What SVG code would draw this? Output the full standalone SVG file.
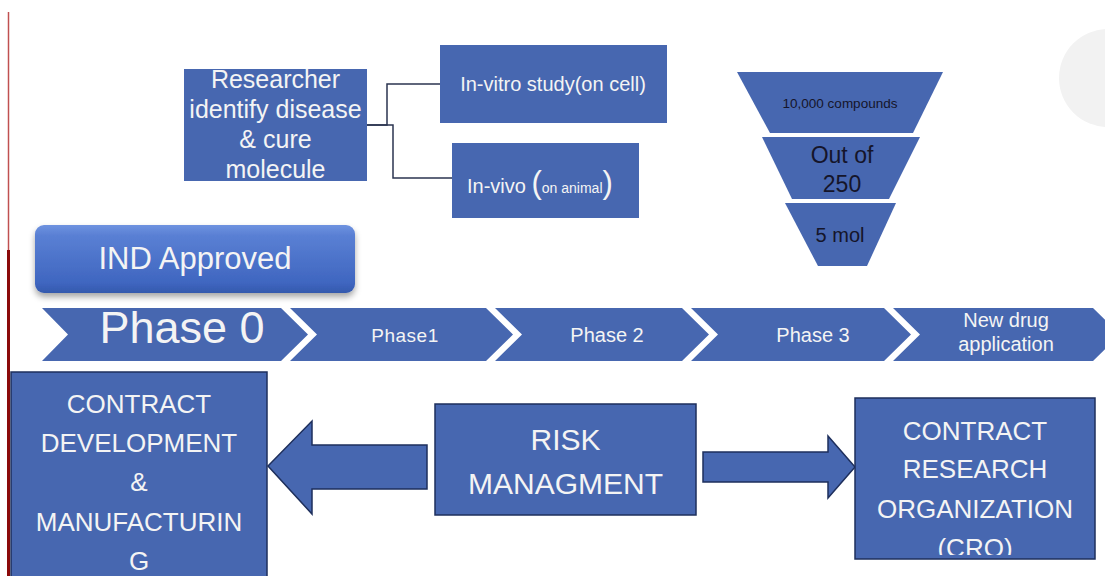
<svg xmlns="http://www.w3.org/2000/svg" width="1105" height="576" viewBox="0 0 1105 576">
<defs>
<style>
.box{fill:#4767b0}
.bbox{fill:#4767b0;stroke:#1e2f5c;stroke-width:1.5}
.chev{fill:#4767b0}
.wt{fill:#f4f4f4;font-family:"Liberation Sans",Arial,sans-serif;text-anchor:middle}
.dt{fill:#15152a;font-family:"Liberation Sans",Arial,sans-serif;text-anchor:middle}
.conn{fill:none;stroke:#2b3550;stroke-width:1.5}
.barrow{fill:#4767b0;stroke:#1e2f5c;stroke-width:1.5}
</style>
<linearGradient id="indg" x1="0" y1="0" x2="0" y2="1">
<stop offset="0" stop-color="#6f93e0"/>
<stop offset="0.15" stop-color="#5a80d4"/>
<stop offset="0.85" stop-color="#3f66c0"/>
<stop offset="1" stop-color="#3459ad"/>
</linearGradient>
<filter id="sh" x="-10%" y="-20%" width="120%" height="150%">
<feDropShadow dx="0" dy="4" stdDeviation="3" flood-color="#000" flood-opacity="0.35"/>
</filter>
<clipPath id="croclip"><rect x="855" y="398" width="240" height="157"/></clipPath>
</defs>
<rect width="1105" height="576" fill="#ffffff"/>
<line x1="8.5" y1="12" x2="8.5" y2="250" stroke="#c05050" stroke-width="1.5"/>
<line x1="8.5" y1="250" x2="8.5" y2="576" stroke="#8b0a0a" stroke-width="3"/>
<circle cx="1108" cy="78" r="49" fill="#f2f2f2"/>

<g id="connectors">
<path class="conn" d="M367,125 H387 V84 H440"/>
<path class="conn" d="M367,125 H393 V178 H452"/>
<polygon class="barrow" points="268,466 312,421 312,445 427,445 427,489 312,489 312,514"/>
<polygon class="barrow" points="703,452 828,452 828,436 855,467 828,498 828,482 703,482"/>
</g>

<g id="researcher">
<rect class="box" x="184" y="69" width="183" height="112"/>
<text class="wt" font-size="25"><tspan x="275.5" y="88">Researcher</tspan><tspan x="275.5" y="118">identify disease</tspan><tspan x="275.5" y="148">&amp; cure</tspan><tspan x="275.5" y="178">molecule</tspan></text>
</g>

<g id="invitro">
<rect class="box" x="440" y="45" width="227" height="78"/>
<text class="wt" font-size="20" x="553" y="91">In-vitro study(on cell)</text>
</g>

<g id="invivo">
<rect class="box" x="452" y="143" width="187" height="75"/>
<text class="wt" style="text-anchor:start" x="467" y="193" font-size="20">In-vivo <tspan font-size="31">(</tspan><tspan font-size="14">on animal</tspan><tspan font-size="31">)</tspan></text>
</g>

<g id="funnel-1">
<polygon class="box" points="737,72 943,72 913,133 770,133"/>
<text class="dt" x="840" y="108" font-size="13.5">10,000 compounds</text>
</g>
<g id="funnel-2">
<polygon class="box" points="762,137 920,137 889,199 792,199"/>
<text class="dt" font-size="23"><tspan x="842" y="163">Out of</tspan><tspan x="842" y="192">250</tspan></text>
</g>
<g id="funnel-3">
<polygon class="box" points="785,203 896,203 867,266 818,266"/>
<text class="dt" x="840" y="242" font-size="20">5 mol</text>
</g>

<g id="ind-approved">
<rect x="35" y="225" width="320" height="68" rx="9" fill="url(#indg)" filter="url(#sh)"/>
<text class="wt" x="195" y="269" font-size="31">IND Approved</text>
</g>

<g id="phase0">
<polygon class="chev" points="42,308 281,308 308,334.5 281,361 42,361 68,334.5"/>
<text class="wt" x="182" y="343" font-size="45">Phase 0</text>
</g>
<g id="phase1">
<polygon class="chev" points="290,308 486,308 513,334.5 486,361 290,361 317,334.5"/>
<text class="wt" x="405" y="342" font-size="19" letter-spacing="0.5">Phase1</text>
</g>
<g id="phase2">
<polygon class="chev" points="495,308 682,308 709,334.5 682,361 495,361 522,334.5"/>
<text class="wt" x="607" y="342" font-size="20">Phase 2</text>
</g>
<g id="phase3">
<polygon class="chev" points="691,308 884,308 911,334.5 884,361 691,361 718,334.5"/>
<text class="wt" x="813" y="342" font-size="20">Phase 3</text>
</g>
<g id="nda">
<polygon class="chev" points="893,308 1093,308 1120,334.5 1093,361 893,361 920,334.5"/>
<text class="wt" font-size="20"><tspan x="1006" y="327">New drug</tspan><tspan x="1006" y="351">application</tspan></text>
</g>

<g id="cdm">
<rect class="bbox" x="11" y="372" width="256" height="214"/>
<text class="wt" font-size="26"><tspan x="139" y="413">CONTRACT</tspan><tspan x="139" y="452">DEVELOPMENT</tspan><tspan x="139" y="491">&amp;</tspan><tspan x="139" y="531">MANUFACTURIN</tspan><tspan x="139" y="570">G</tspan></text>
</g>

<g id="risk">
<rect class="bbox" x="435" y="404" width="261" height="111"/>
<text class="wt" font-size="30"><tspan x="565.5" y="450">RISK</tspan><tspan x="565.5" y="494">MANAGMENT</tspan></text>
</g>

<g id="cro">
<rect class="bbox" x="855" y="398" width="240" height="161"/>
<text class="wt" font-size="26" clip-path="url(#croclip)"><tspan x="975" y="440">CONTRACT</tspan><tspan x="975" y="478">RESEARCH</tspan><tspan x="975" y="518">ORGANIZATION</tspan><tspan x="975" y="557">(CRO)</tspan></text>
</g>
</svg>
